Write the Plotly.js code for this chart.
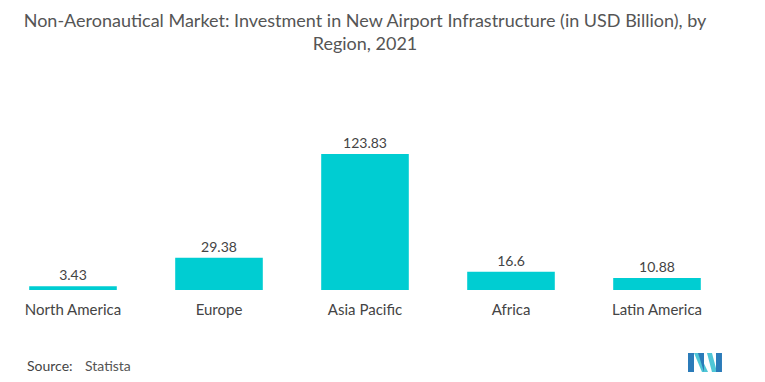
<!DOCTYPE html>
<html>
<head>
<meta charset="utf-8">
<script src="https://cdn.plot.ly/plotly-3.0.1.min.js"></script>
<style>html,body{margin:0;padding:0;background:#fff;}#chart{width:765px;height:382px;}</style>
</head>
<body>
<div id="chart"></div>
<script>
const regions = ["North America", "Europe", "Asia Pacific", "Africa", "Latin America"];
const investment = [3.43, 29.38, 123.83, 16.6, 10.88];
const valueLabels = ["3.43", "29.38", "123.83", "16.6", "10.88"];

const W = 765, H = 382;
const M = {l: 0, r: 35, t: 140, b: 92};
const pw = W - M.l - M.r, ph = H - M.t - M.b;
function px(x) { return (x - M.l) / pw; }
function py(y) { return (H - M.b - y) / ph; }
function path(pts) { return 'M' + pts.map(p => px(p[0]).toFixed(4) + ',' + py(p[1]).toFixed(4)).join(' L') + ' Z'; }

const dark = '#2b7bb9', light = '#4fc6d6';
const logo = [
  {pts: [[688,353],[694,353],[694,372],[688,372]], c: dark},
  {pts: [[694,353],[699,353],[708,372],[702,372]], c: light},
  {pts: [[698,353],[704,353],[704,372]], c: dark},
  {pts: [[707,353],[712,353],[717,372],[712,372]], c: light},
  {pts: [[716,353],[722,353],[722,372],[716,372]], c: dark}
];
const shapes = logo.map(s => ({type: 'path', xref: 'paper', yref: 'paper', path: path(s.pts), fillcolor: s.c, line: {width: 0}}));

const trace = {
  type: 'bar',
  x: regions,
  y: investment,
  text: valueLabels,
  textposition: 'outside',
  cliponaxis: false,
  textfont: {family: 'Lato, sans-serif', size: 14, color: '#444'},
  marker: {color: '#00cdd2'},
  width: 0.6,
  hoverinfo: 'none'
};

const layout = {
  width: W, height: H,
  margin: M,
  paper_bgcolor: '#fff', plot_bgcolor: '#fff',
  showlegend: false,
  title: {
    text: 'Non-Aeronautical Market: Investment in New Airport Infrastructure (in USD Billion), by<br>Region, 2021',
    x: 0.5, xref: 'paper', xanchor: 'center', y: 0.93, yref: 'container', yanchor: 'top',
    font: {family: 'Lato, sans-serif', size: 18, color: '#555'}
  },
  xaxis: {
    type: 'category', showgrid: false, zeroline: false, showline: false,
    ticks: 'outside', ticklen: 6, tickcolor: 'rgba(0,0,0,0)',
    tickfont: {family: 'Lato, sans-serif', size: 15, color: '#444'}
  },
  yaxis: {range: [0, 136.6], visible: false, showgrid: false, zeroline: false},
  shapes: shapes,
  annotations: [
    {text: 'Source:', xref: 'paper', yref: 'paper', x: px(25), y: py(365), xanchor: 'left', yanchor: 'middle', showarrow: false,
     font: {family: 'Lato, sans-serif', size: 14, color: '#444'}},
    {text: 'Statista', xref: 'paper', yref: 'paper', x: px(83), y: py(365), xanchor: 'left', yanchor: 'middle', showarrow: false,
     font: {family: 'Lato, sans-serif', size: 14, color: '#555'}}
  ]
};

Plotly.newPlot('chart', [trace], layout, {displayModeBar: false, staticPlot: true});
</script>
</body>
</html>
